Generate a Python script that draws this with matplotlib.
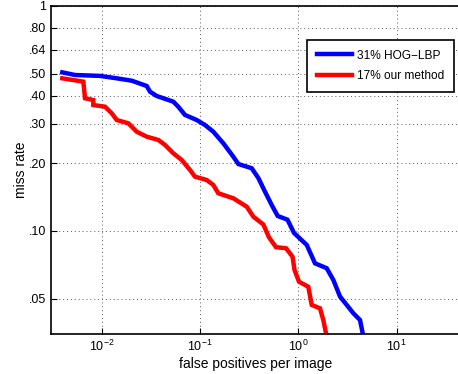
import numpy as np
import matplotlib.pyplot as plt
from matplotlib.ticker import FixedLocator, FixedFormatter, NullLocator

plt.rcParams['font.family'] = ['Liberation Sans', 'DejaVu Sans']

# miss rate vs false positives per image
hog_fppi = [0.00397, 0.00535, 0.00961, 0.01422, 0.0202, 0.0287, 0.0310, 0.0363,
            0.0535, 0.0601, 0.0703, 0.0925, 0.1124, 0.1366, 0.1725, 0.2183,
            0.2453, 0.3357, 0.392, 0.458, 0.536, 0.617, 0.776, 0.904, 1.218,
            1.479, 1.945, 2.271, 2.657, 3.627, 4.244, 4.65]
hog_miss = [0.507, 0.4935, 0.489, 0.477, 0.4656, 0.441, 0.416, 0.398,
            0.3756, 0.3567, 0.328, 0.3113, 0.2958, 0.2762, 0.2454, 0.2138,
            0.1985, 0.1900, 0.172, 0.1496, 0.1305, 0.1166, 0.1122, 0.0980, 0.0867,
            0.0718, 0.0683, 0.0606, 0.0511, 0.0431, 0.0402, 0.033]

our_fppi = [0.00397, 0.0065, 0.00676, 0.00821, 0.00821, 0.01081, 0.01265, 0.01422,
            0.01866, 0.0227, 0.0287, 0.0377, 0.0441, 0.0535, 0.0651, 0.0791,
            0.0889, 0.1169, 0.1366, 0.1534, 0.2183, 0.2988, 0.3485, 0.4406,
            0.5035, 0.593, 0.750, 0.873, 0.915, 1.016, 1.264, 1.369, 1.663,
            1.796, 1.97]
our_miss = [0.477, 0.461, 0.389, 0.382, 0.363, 0.3567, 0.3334, 0.3113,
            0.301, 0.2762, 0.2625, 0.2538, 0.2411, 0.2215, 0.2068, 0.1867,
            0.1743, 0.1685, 0.1601, 0.1471, 0.1397, 0.1282, 0.1158, 0.1069,
            0.0936, 0.0847, 0.0838, 0.0769, 0.0671, 0.0595, 0.0565, 0.0469, 0.0453,
            0.0402, 0.033]

ytick_vals = [0.05, 0.10, 0.20, 0.30, 0.40, 0.50, 0.64, 0.80, 1.0]
ytick_labels = ['.05', '.10', '.20', '.30', '.40', '.50', '.64', '.80', '1']
xtick_vals = [1e-2, 1e-1, 1e0, 1e1]

fig = plt.figure(figsize=(4.58, 3.74), dpi=100)
ax = fig.add_axes([51 / 458, 40 / 374, 409 / 458, 328 / 374])

ax.plot(hog_fppi, hog_miss, color='#0000ff', lw=3.2, label='31% HOG\u2212LBP',
        solid_joinstyle='miter')
ax.plot(our_fppi, our_miss, color='#ff0000', lw=3.2, label='17% our method',
        solid_joinstyle='miter')

ax.set_xscale('log')
ax.set_yscale('log')
ax.set_xlim(10 ** -2.516, 10 ** 1.645)
ax.set_ylim(10 ** -1.458, 1.0)

ax.yaxis.set_major_locator(FixedLocator(ytick_vals))
ax.yaxis.set_major_formatter(FixedFormatter(ytick_labels))
ax.yaxis.set_minor_locator(NullLocator())
ax.xaxis.set_major_locator(FixedLocator(xtick_vals))
ax.xaxis.set_minor_locator(NullLocator())
ax.tick_params(direction='in', labelsize=9, length=4, width=0.8)

ax.grid(True, color='0.35', linestyle=(0, (1, 3)), linewidth=0.7)
for s in ax.spines.values():
    s.set_linewidth(1.2)

ax.set_xlabel('false positives per image', fontsize=10, labelpad=2)
ax.set_ylabel('miss rate', fontsize=10, labelpad=0.5)

leg = ax.legend(loc='upper right', bbox_to_anchor=(0.985, 0.896), borderaxespad=0,
                prop={'size': 8.6}, fancybox=False, framealpha=1, edgecolor='black',
                handlelength=2.9, handletextpad=0.45, borderpad=0.8,
                labelspacing=0.7)
leg.get_frame().set_linewidth(1.2)

fig.savefig('out.png', dpi=100)
